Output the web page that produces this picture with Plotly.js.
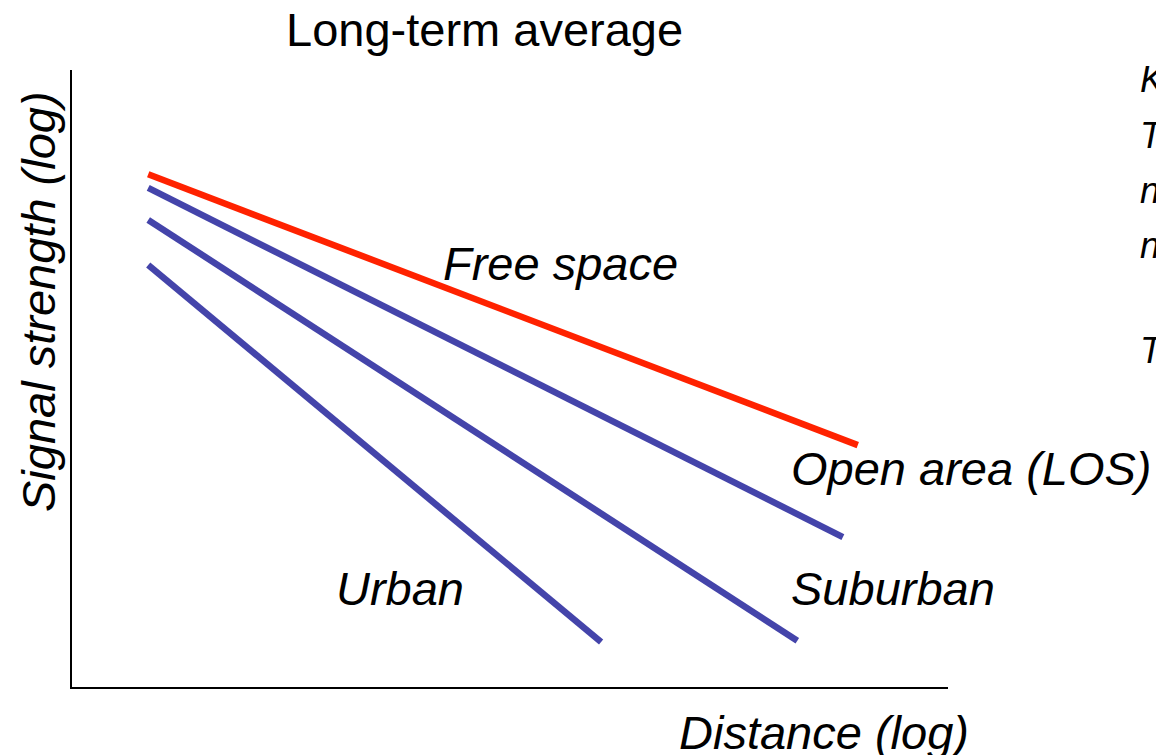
<!DOCTYPE html>
<html><head><meta charset="utf-8">
<script src="https://cdn.plot.ly/plotly-3.0.1.min.js"></script>
<style>body{margin:0;background:#fff}#chart{width:1156px;height:755px}</style>
</head><body><div id="chart"></div>
<script>
// Schematic values (arbitrary log units, 0-10 scale)
const seriesNames = ["Free space", "Open area (LOS)", "Suburban", "Urban"];
const freeSpaceX = [0.87, 8.97];
const freeSpaceY = [8.31, 3.92];
const openAreaX = [0.87, 8.80];
const openAreaY = [8.09, 2.43];
const suburbanX = [0.87, 8.28];
const suburbanY = [7.57, 0.75];
const urbanX = [0.87, 6.04];
const urbanY = [6.84, 0.73];
const cutText = ["K", "T", "n", "n", "T"];
const cutTextY = [80, 135, 190, 245, 350];

const red = "#ff2200", blue = "#4444aa";
const font = "Liberation Sans, Arial, sans-serif";
const PL = 72, PR = 948, PT = 70, PB = 687;
const px = v => (v - PL) / (PR - PL);
const py = v => (PB - v) / (PB - PT);

const traces = [
  {x: urbanX, y: urbanY, name: seriesNames[3], line: {color: blue, width: 6.5}},
  {x: suburbanX, y: suburbanY, name: seriesNames[2], line: {color: blue, width: 6.5}},
  {x: openAreaX, y: openAreaY, name: seriesNames[1], line: {color: blue, width: 6.5}},
  {x: freeSpaceX, y: freeSpaceY, name: seriesNames[0], line: {color: red, width: 6.5}}
].map(t => Object.assign({type: "scatter", mode: "lines", hoverinfo: "skip"}, t));

const big = {family: font, size: 47, color: "#000"};
const small = {family: font, size: 36, color: "#000"};
const annotations = [
  {text: "<i>Free space</i>", x: px(560), y: py(263), xanchor: "center"},
  {text: "<i>Open area (LOS)</i>", x: px(789), y: py(468), xanchor: "left"},
  {text: "<i>Suburban</i>", x: px(789), y: py(588), xanchor: "left"},
  {text: "<i>Urban</i>", x: px(400), y: py(588), xanchor: "center"},
  {text: "<i>Distance (log)</i>", x: px(971), y: py(732), xanchor: "right"},
  {text: "<i>Signal strength (log)</i>", x: px(38), y: py(302), xanchor: "center", textangle: -90},
  {text: "Long-term average", x: px(484), y: py(30), xanchor: "center"}
].map(a => Object.assign({xref: "paper", yref: "paper", yanchor: "middle", showarrow: false, font: big}, a))
 .concat(cutText.map((t, i) => ({text: "<i>" + t + "</i>", x: px(1138), y: py(cutTextY[i]), xref: "paper", yref: "paper",
   xanchor: "left", yanchor: "middle", showarrow: false, font: small})));

const layout = {
  width: 1156, height: 755,
  margin: {l: PL, r: 1156 - PR, t: PT, b: 755 - PB},
  paper_bgcolor: "#fff", plot_bgcolor: "#fff",
  showlegend: false,
  xaxis: {range: [0, 10], showline: true, linecolor: "#000", linewidth: 2, showgrid: false, zeroline: false, showticklabels: false, ticks: ""},
  yaxis: {range: [0, 10], showline: true, linecolor: "#000", linewidth: 2, showgrid: false, zeroline: false, showticklabels: false, ticks: ""},
  annotations: annotations
};
Plotly.newPlot("chart", traces, layout, {staticPlot: true});
</script></body></html>
